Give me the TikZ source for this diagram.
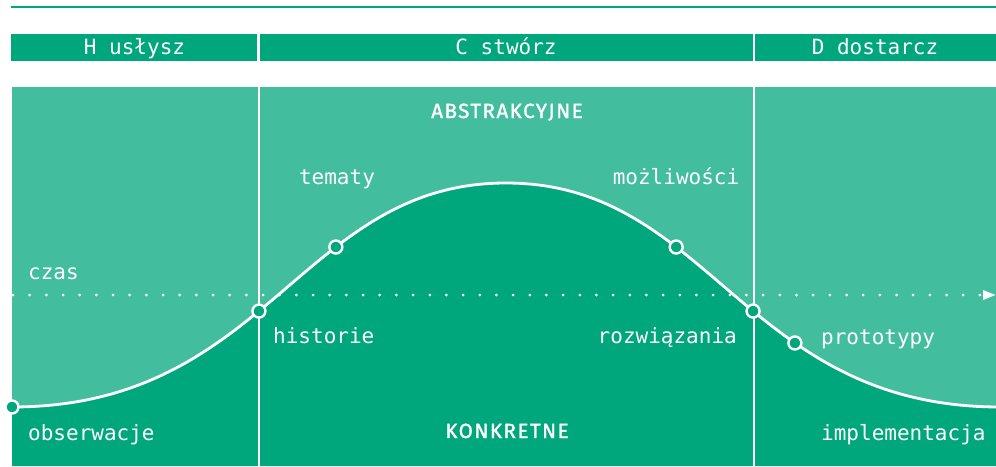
\documentclass[tikz,border=0pt]{standalone}
\usepackage{fontspec}
\setmonofont{DejaVu Sans Mono}
\newfontfamily\capsfont{Fira Sans}[FakeBold=1.5, LetterSpace=7.5]
\usetikzlibrary{arrows.meta}
\definecolor{lightteal}{HTML}{42BD9E}
\definecolor{darkteal}{HTML}{00A67C}

\begin{document}
\begin{tikzpicture}[x=1pt, y=-1pt,
  lbl/.style={text=white, font=\ttfamily\fontsize{21}{24}\selectfont, inner sep=0pt},
  caps/.style={text=white, font=\capsfont\fontsize{20.5}{24}\selectfont, inner sep=0pt},
  marker/.style={circle, draw=white, line width=2.4pt, fill=darkteal, minimum size=13pt, inner sep=0pt},
  divider/.style={draw=white, line width=2.2pt},
  curveline/.style={draw=white, line width=2.8pt},
  timeline/.style={draw=white, line width=3pt, line cap=round, dash pattern=on 0pt off 16.67pt}]
\useasboundingbox (0,0) rectangle (996,466);

% rule above the phase headers
\draw[darkteal, line width=2.6pt] (11,7) -- (996,7);

% phase header bar
\fill[darkteal] (11,34) rectangle (996,61);
\draw[divider] (258.5,34) -- (258.5,61);
\draw[divider] (754,34) -- (754,61);
\node[lbl, anchor=mid] (hhead) at (134.5,52) {H usłysz};
\node[lbl, anchor=mid] (chead) at (506,52) {C stwórz};
\node[lbl, anchor=mid] (dhead) at (875,52) {D dostarcz};

% abstract (upper) area and concrete (lower) area split by the curve
\fill[lightteal] (12,87) rectangle (996,466);
\fill[darkteal] (12,407) .. controls (268,407) and (301,183) .. (506,183)
  .. controls (711,183) and (744,407) .. (1000,407) -- (1000,466) -- (12,466) -- cycle;

% phase dividers
\draw[divider] (259,87) -- (259,466);
\draw[divider] (754,87) -- (754,466);

% time axis
\coordinate (tstart) at (13,295);
\coordinate (tend) at (996,295);
\draw[timeline, -{Triangle[length=13pt, width=9pt]}] (tstart) -- (tend);

% the curve with its milestones
\draw[curveline] (12,407) .. controls (268,407) and (301,183) .. (506,183)
  .. controls (711,183) and (744,407) .. (1000,407);
\node[marker] (m0) at (12,407) {};
\path (12,407) .. controls (268,407) and (301,183) .. (506,183)
  node[marker, pos=0.452] (m1) {}
  node[marker, pos=0.647] (m2) {};
\path (506,183) .. controls (711,183) and (744,407) .. (1000,407)
  node[marker, pos=0.353] (m3) {}
  node[marker, pos=0.548] (m4) {}
  node[marker, pos=0.647] (m5) {};

% labels
\node[lbl, anchor=mid west] (czas) at (28,277) {czas};
\node[caps, anchor=base] (abstr) at (507,118) {ABSTRAKCYJNE};
\node[lbl, anchor=mid] (tematy) at (337,182) {tematy};
\node[lbl, anchor=mid] (mozl) at (676,182) {możliwości};
\node[lbl, anchor=mid west] (hist) at (273,341) {historie};
\node[lbl, anchor=mid east] (rozw) at (737,341) {rozwiązania};
\node[lbl, anchor=mid west] (proto) at (821,342) {prototypy};
\node[lbl, anchor=mid west] (obs) at (28,438) {obserwacje};
\node[caps, anchor=base] (konkr) at (507,438) {KONKRETNE};
\node[lbl, anchor=mid west] (impl) at (821,438) {implementacja};
\end{tikzpicture}
\end{document}
